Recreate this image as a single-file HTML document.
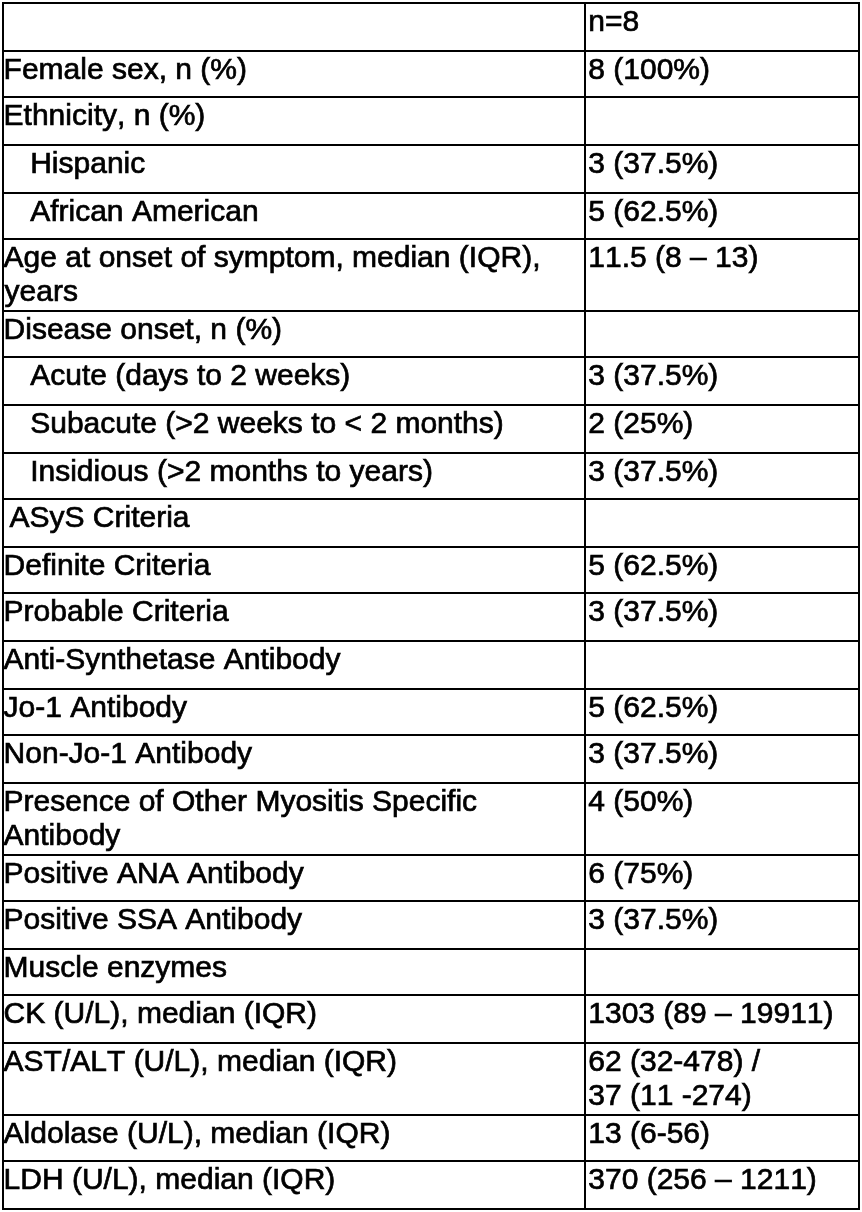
<!DOCTYPE html>
<html lang="en"><head><meta charset="utf-8"><title>Table</title>
<style>
html,body{margin:0;padding:0;background:#fff;}
body{width:862px;height:1212px;position:relative;overflow:hidden;font-family:"Liberation Sans",sans-serif;font-size:30px;line-height:34px;color:#000;}
.t{position:absolute;white-space:pre;margin:0;font-kerning:none;font-variant-ligatures:none;-webkit-text-stroke:0.7px #000;}
#tx{position:absolute;left:0;top:0;width:862px;height:1212px;will-change:transform;}
svg{position:absolute;left:0;top:0;}
</style></head><body>
<svg width="862" height="1212" viewBox="0 0 862 1212">
<rect x="2.00" y="2.00" width="858.00" height="2.00" fill="#000"/>
<rect x="2.00" y="50.00" width="858.00" height="2.00" fill="#000"/>
<rect x="2.00" y="96.00" width="858.00" height="2.00" fill="#000"/>
<rect x="2.00" y="144.00" width="858.00" height="2.00" fill="#000"/>
<rect x="2.00" y="192.00" width="858.00" height="2.00" fill="#000"/>
<rect x="2.00" y="238.00" width="858.00" height="2.00" fill="#000"/>
<rect x="2.00" y="310.00" width="858.00" height="2.00" fill="#000"/>
<rect x="2.00" y="356.00" width="858.00" height="2.00" fill="#000"/>
<rect x="2.00" y="404.00" width="858.00" height="2.00" fill="#000"/>
<rect x="2.00" y="452.00" width="858.00" height="2.00" fill="#000"/>
<rect x="2.00" y="498.00" width="858.00" height="2.00" fill="#000"/>
<rect x="2.00" y="546.00" width="858.00" height="2.00" fill="#000"/>
<rect x="2.00" y="592.00" width="858.00" height="2.00" fill="#000"/>
<rect x="2.00" y="640.00" width="858.00" height="2.00" fill="#000"/>
<rect x="2.00" y="688.00" width="858.00" height="2.00" fill="#000"/>
<rect x="2.00" y="734.00" width="858.00" height="2.00" fill="#000"/>
<rect x="2.00" y="782.00" width="858.00" height="2.00" fill="#000"/>
<rect x="2.00" y="854.00" width="858.00" height="2.00" fill="#000"/>
<rect x="2.00" y="900.00" width="858.00" height="2.00" fill="#000"/>
<rect x="2.00" y="948.00" width="858.00" height="2.00" fill="#000"/>
<rect x="2.00" y="994.00" width="858.00" height="2.00" fill="#000"/>
<rect x="2.00" y="1042.00" width="858.00" height="2.00" fill="#000"/>
<rect x="2.00" y="1114.00" width="858.00" height="2.00" fill="#000"/>
<rect x="2.00" y="1160.00" width="858.00" height="2.00" fill="#000"/>
<rect x="2.00" y="1208.00" width="858.00" height="2.00" fill="#000"/>
<rect x="2.00" y="2.00" width="2.00" height="1208.00" fill="#000"/>
<rect x="584.00" y="2.00" width="2.00" height="1208.00" fill="#000"/>
<rect x="858.00" y="2.00" width="2.00" height="1208.00" fill="#000"/>
</svg>
<div id="tx">
<div class="t" style="left:588.30px;top:4.21px">n=8</div>
<div class="t" style="left:3.60px;top:52.20px">Female sex, n (%)</div>
<div class="t" style="left:588.30px;top:52.20px">8 (100%)</div>
<div class="t" style="left:3.60px;top:98.20px">Ethnicity, n (%)</div>
<div class="t" style="left:30.20px;top:146.20px">Hispanic</div>
<div class="t" style="left:588.30px;top:146.20px">3 (37.5%)</div>
<div class="t" style="left:30.20px;top:194.20px">African American</div>
<div class="t" style="left:588.30px;top:194.20px">5 (62.5%)</div>
<div class="t" style="left:3.60px;top:240.21px">Age at onset of symptom, median (IQR),</div>
<div class="t" style="left:4.60px;top:274.21px">years</div>
<div class="t" style="left:588.30px;top:240.21px">11.5 (8 – 13)</div>
<div class="t" style="left:3.60px;top:312.21px">Disease onset, n (%)</div>
<div class="t" style="left:30.20px;top:358.21px">Acute (days to 2 weeks)</div>
<div class="t" style="left:588.30px;top:358.21px">3 (37.5%)</div>
<div class="t" style="left:30.20px;top:406.21px">Subacute (&gt;2 weeks to &lt; 2 months)</div>
<div class="t" style="left:588.30px;top:406.21px">2 (25%)</div>
<div class="t" style="left:30.20px;top:454.21px">Insidious (&gt;2 months to years)</div>
<div class="t" style="left:588.30px;top:454.21px">3 (37.5%)</div>
<div class="t" style="left:9.50px;top:500.21px">ASyS Criteria</div>
<div class="t" style="left:3.60px;top:548.21px">Definite Criteria</div>
<div class="t" style="left:588.30px;top:548.21px">5 (62.5%)</div>
<div class="t" style="left:3.60px;top:594.21px">Probable Criteria</div>
<div class="t" style="left:588.30px;top:594.21px">3 (37.5%)</div>
<div class="t" style="left:3.60px;top:642.21px">Anti-Synthetase Antibody</div>
<div class="t" style="left:3.60px;top:690.21px">Jo-1 Antibody</div>
<div class="t" style="left:588.30px;top:690.21px">5 (62.5%)</div>
<div class="t" style="left:3.60px;top:736.21px">Non-Jo-1 Antibody</div>
<div class="t" style="left:588.30px;top:736.21px">3 (37.5%)</div>
<div class="t" style="left:3.60px;top:784.21px">Presence of Other Myositis Specific</div>
<div class="t" style="left:3.60px;top:818.21px">Antibody</div>
<div class="t" style="left:588.30px;top:784.21px">4 (50%)</div>
<div class="t" style="left:3.60px;top:856.21px">Positive ANA Antibody</div>
<div class="t" style="left:588.30px;top:856.21px">6 (75%)</div>
<div class="t" style="left:3.60px;top:902.21px">Positive SSA Antibody</div>
<div class="t" style="left:588.30px;top:902.21px">3 (37.5%)</div>
<div class="t" style="left:3.60px;top:950.21px">Muscle enzymes</div>
<div class="t" style="left:3.60px;top:996.21px">CK (U/L), median (IQR)</div>
<div class="t" style="left:588.30px;top:996.21px">1303 (89 – 19911)</div>
<div class="t" style="left:3.60px;top:1044.20px">AST/ALT (U/L), median (IQR)</div>
<div class="t" style="left:588.30px;top:1044.20px">62 (32-478) /</div>
<div class="t" style="left:588.30px;top:1078.20px">37 (11 -274)</div>
<div class="t" style="left:3.60px;top:1116.20px">Aldolase (U/L), median (IQR)</div>
<div class="t" style="left:588.30px;top:1116.20px">13 (6-56)</div>
<div class="t" style="left:3.60px;top:1162.20px">LDH (U/L), median (IQR)</div>
<div class="t" style="left:588.30px;top:1162.20px">370 (256 – 1211)</div>
</div>
</body></html>
